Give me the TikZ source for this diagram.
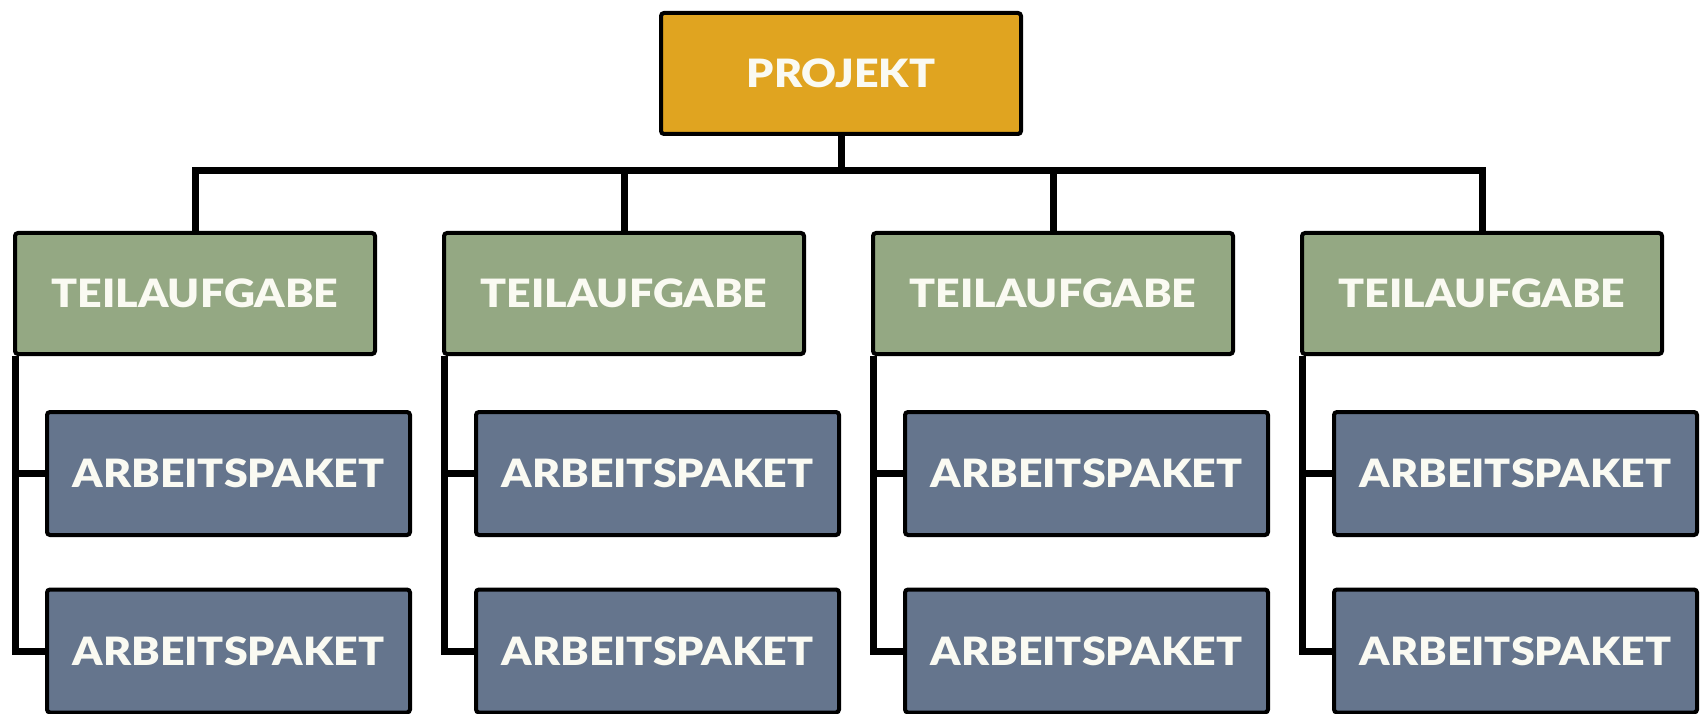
\documentclass[tikz,border=0pt]{standalone}
\usepackage{fontspec}
\setmainfont{Lato}[UprightFont=* Black, BoldFont=* Black, FakeStretch=1.1]
\usetikzlibrary{positioning}
\definecolor{projgold}{RGB}{224,164,32}
\definecolor{teilgreen}{RGB}{148,168,131}
\definecolor{apblue}{RGB}{101,117,141}
\definecolor{boxtext}{RGB}{250,250,242}

\begin{document}
\begin{tikzpicture}[x=1pt,y=-1pt,
	box/.style={draw=black,line width=4pt,rounded corners=3pt,text=boxtext,inner sep=0pt,
		font=\fontsize{39}{39}\selectfont},
	projbox/.style={box,fill=projgold,minimum width=360pt,minimum height=121pt},
	teilbox/.style={box,fill=teilgreen,minimum width=360pt,minimum height=121pt},
	apbox/.style={box,fill=apblue,minimum width=363pt,minimum height=123pt},
	link/.style={line width=7pt}]
	\useasboundingbox (0,0) rectangle (1700,714);
	\node[projbox] (proj) at (841,73.5) {PROJEKT};
	\coordinate (bar) at (841,171);
	\node[teilbox] (teil1) at (195,293.5) {TEILAUFGABE};
	\node[teilbox] (teil2) at (624,293.5) {TEILAUFGABE};
	\node[teilbox] (teil3) at (1053,293.5) {TEILAUFGABE};
	\node[teilbox] (teil4) at (1482,293.5) {TEILAUFGABE};
	\node[apbox] (ap11) at (228.5,473.5) {ARBEITSPAKET};
	\node[apbox] (ap12) at (228.5,651) {ARBEITSPAKET};
	\node[apbox] (ap21) at (657.5,473.5) {ARBEITSPAKET};
	\node[apbox] (ap22) at (657.5,651) {ARBEITSPAKET};
	\node[apbox] (ap31) at (1086.5,473.5) {ARBEITSPAKET};
	\node[apbox] (ap32) at (1086.5,651) {ARBEITSPAKET};
	\node[apbox] (ap41) at (1515.5,473.5) {ARBEITSPAKET};
	\node[apbox] (ap42) at (1515.5,651) {ARBEITSPAKET};
	% Baum: Projekt -> Teilaufgaben
	\draw[link] (proj.south) -- (bar);
	\draw[link] (teil1.north) |- (bar) -| (teil4.north);
	\draw[link] (bar) -| (teil2.north);
	\draw[link] (bar) -| (teil3.north);
	% Teilaufgaben -> Arbeitspakete
	\draw[link] ([xshift=2pt]teil1.south west) |- (ap12.west);
	\draw[link] ([xshift=2pt]teil1.south west |- ap11.west) -- (ap11.west);
	\draw[link] ([xshift=2pt]teil2.south west) |- (ap22.west);
	\draw[link] ([xshift=2pt]teil2.south west |- ap21.west) -- (ap21.west);
	\draw[link] ([xshift=2pt]teil3.south west) |- (ap32.west);
	\draw[link] ([xshift=2pt]teil3.south west |- ap31.west) -- (ap31.west);
	\draw[link] ([xshift=2pt]teil4.south west) |- (ap42.west);
	\draw[link] ([xshift=2pt]teil4.south west |- ap41.west) -- (ap41.west);
\end{tikzpicture}
\end{document}
